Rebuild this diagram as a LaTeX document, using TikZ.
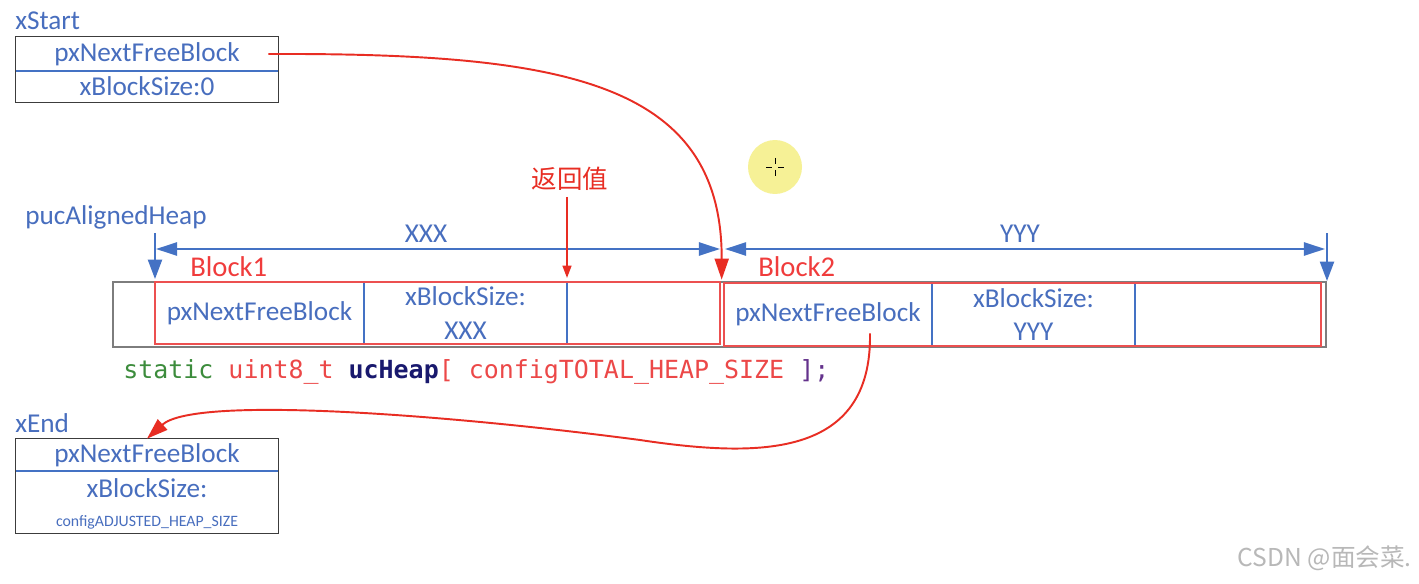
\documentclass[tikz,border=0pt]{standalone}
\usepackage{fontspec}
\setmainfont{Carlito}
\newfontfamily\cjkfont{Noto Sans CJK SC}
\newfontfamily\codefont{DejaVu Sans Mono}
\usetikzlibrary{arrows.meta}
\definecolor{tblue}{RGB}{72,110,190}
\definecolor{lblue}{RGB}{68,114,196}
\definecolor{cred}{RGB}{232,45,35}
\definecolor{lred}{RGB}{240,60,60}
\definecolor{rthin}{RGB}{236,80,80}
\definecolor{hgray}{RGB}{125,125,125}
\definecolor{bgray}{RGB}{60,60,60}
\definecolor{cgreen}{RGB}{60,140,60}
\definecolor{cpink}{RGB}{236,72,72}
\definecolor{cnavy}{RGB}{25,25,110}
\definecolor{cpurple}{RGB}{100,50,140}
\definecolor{ylw}{RGB}{246,241,150}
\begin{document}
\begin{tikzpicture}[x=0.02cm,y=-0.02cm,
  lbl/.style={font=\fontsize{15.5}{18}\selectfont, text=tblue, inner sep=0pt},
  cell/.style={font=\fontsize{15.5}{19.3}\selectfont, text=tblue, inner sep=0pt, align=center},
  boxline/.style={draw=bgray, line width=0.8pt},
  bline/.style={draw=lblue, line width=1pt},
  rthinline/.style={draw=rthin, line width=1pt},
  barr/.style={draw=lblue, line width=1.1pt, -{Triangle[length=11pt,width=8pt]}},
  dimline/.style={draw=lblue, line width=1.1pt, {Triangle[length=12pt,width=7.5pt]}-{Triangle[length=12pt,width=7.5pt]}},
  rarr/.style={draw=cred, line width=1.1pt, -{Triangle[length=12pt,width=8pt]}},
  rsmall/.style={draw=cred, line width=1.1pt, -{Triangle[length=7pt,width=5pt]}},
  blocklbl/.style={font=\fontsize{16.3}{19}\selectfont, text=lred, inner sep=0pt}
]
\useasboundingbox[fill=white] (0,0) rectangle (1419,584);

% yellow cursor highlight
\fill[ylw] (775,167) circle[radius=0.54cm];
\draw[black, line width=0.5pt] (766,167) -- (772,167) (778,167) -- (784,167)
  (775,158) -- (775,164) (775,170) -- (775,176);

% xStart
\node[lbl, anchor=west] (xsl) at (15,21) {xStart};
\node[cell, minimum width=5.24cm, minimum height=0.68cm] (xsa) at (147,54) {pxNextFreeBlock};
\node[cell, minimum width=5.24cm, minimum height=0.62cm] (xsb) at (147,86.5) {xBlockSize:0};
\draw[boxline] (xsa.north west) rectangle (xsb.south east);
\draw[bline] (xsa.south west) -- (xsa.south east);

% heap
\node[draw=hgray, line width=0.9pt, minimum width=24.26cm, minimum height=1.3cm, inner sep=0pt] (heap) at (719.5,314.5) {};
\node[cell, minimum width=4.18cm, minimum height=1.24cm] (b1a) at (259.5,313) {\raisebox{-2pt}{pxNextFreeBlock}};
\node[cell, minimum width=4.06cm, minimum height=1.24cm] (b1b) at (465.5,313) {xBlockSize:\\XXX};
\node[cell, minimum width=3.06cm, minimum height=1.24cm] (b1c) at (643.5,313) {};
\node[cell, minimum width=4.16cm, minimum height=1.26cm] (b2a) at (828,314.5) {\raisebox{-2pt}{pxNextFreeBlock}};
\node[cell, minimum width=4.06cm, minimum height=1.26cm] (b2b) at (1033.5,314.5) {xBlockSize:\\YYY};
\node[cell, minimum width=3.72cm, minimum height=1.26cm] (b2c) at (1228,314.5) {};
\draw[bline] (b1a.north east) -- (b1a.south east);
\draw[bline] (b1b.north east) -- (b1b.south east);
\draw[bline] (b2a.north east) -- (b2a.south east);
\draw[bline] (b2b.north east) -- (b2b.south east);
\draw[rthinline] (b1a.north west) rectangle (b1c.south east);
\draw[rthinline] (b2a.north west) rectangle (b2c.south east);

\node[blocklbl, anchor=west] (bl1) at (190,267) {Block1};
\node[blocklbl, anchor=west] (bl2) at (758,267) {Block2};

% pucAlignedHeap and dimensions
\node[lbl, anchor=west] (pah) at (25,217) {pucAlignedHeap};
\coordinate (pa1) at (155,233);
\coordinate (pa2) at (155,279);
\draw[barr] (pa1) -- (pa2);
\coordinate (pe1) at (1327,233);
\coordinate (pe2) at (1327,281);
\draw[barr] (pe1) -- (pe2);
\coordinate (dx1) at (156,249);
\coordinate (dx2) at (720,249);
\coordinate (dy1) at (725,249);
\coordinate (dy2) at (1325,249);
\draw[dimline] (dx1) -- (dx2);
\draw[dimline] (dy1) -- (dy2);
\node[lbl] (xxx) at (426,234) {XXX};
\node[lbl] (yyy) at (1020,234) {YYY};

% return value
\node[font=\cjkfont\fontsize{14.5}{17}\selectfont, text=cred, inner sep=0pt] (ret) at (570,179) {返回值};
\coordinate (rv) at (567,278);
\draw[rsmall] (567,197) -- (rv);

% code line
\node[font=\codefont\fontsize{14.2}{17}\selectfont, inner sep=0pt, anchor=west] (code) at (123,372)
  {\color{cgreen}static\ \color{cpink}uint8\_t\ \color{cnavy}\textbf{ucHeap}\color{cpink}[ configTOTAL\_HEAP\_SIZE\ \color{cpurple}];};

% xEnd
\node[lbl, anchor=west] (xel) at (15,423) {xEnd};
\node[cell, minimum width=5.24cm, minimum height=0.64cm] (xea) at (147,455) {pxNextFreeBlock};
\node[cell, minimum width=5.24cm, minimum height=1.24cm] (xeb) at (147,502) {};
\node[lbl] (xeb1) at (147,488) {xBlockSize:};
\node[font=\fontsize{9}{11}\selectfont, text=tblue, inner sep=0pt] (xeb2) at (147,522) {configADJUSTED\_HEAP\_SIZE};
\draw[boxline] (xea.north west) rectangle (xeb.south east);
\draw[bline] (xea.south west) -- (xea.south east);

% red links
\draw[rarr] ([xshift=-0.2cm]xsa.east) .. controls (560,53) and (722,80) .. ([xshift=-0.04cm,yshift=0.06cm]b2a.north west);
\draw[rarr] ([xshift=0.84cm,yshift=0.26cm]b2a.south) .. controls (872,458) and (760,458) .. (640,440)
   .. controls (450,415) and (195,395) .. (xea.north);

% watermark
\node[font=\cjkfont\fontsize{14}{17}\selectfont, text=black!28, inner sep=0pt, anchor=east] (wm) at (1412,558) {CSDN @面会菜.};
\end{tikzpicture}
\end{document}
